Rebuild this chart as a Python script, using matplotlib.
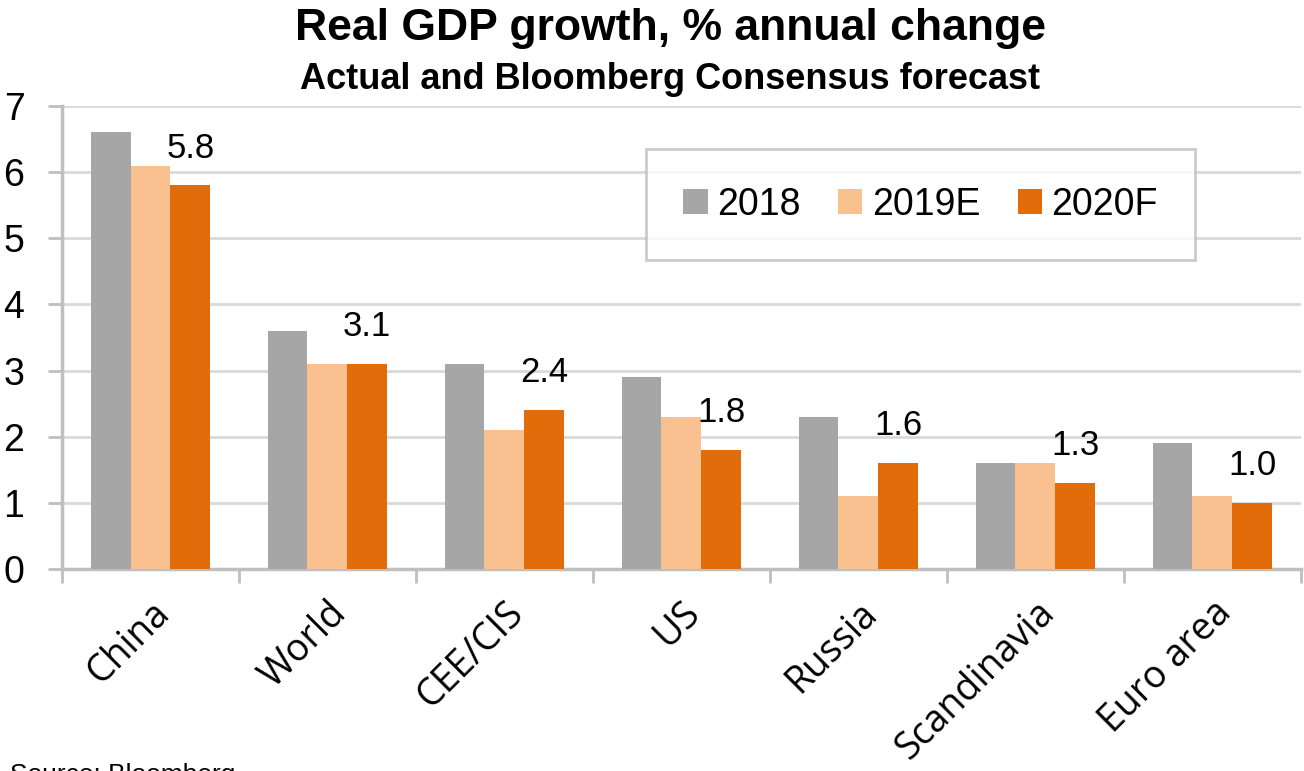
import matplotlib
matplotlib.use('Agg')
import matplotlib.pyplot as plt
import numpy as np

categories = ['China', 'World', 'CEE/CIS', 'US', 'Russia', 'Scandinavia', 'Euro area']
series_names = ['2018', '2019E', '2020F']
gdp_2018 = [6.6, 3.6, 3.1, 2.9, 2.3, 1.6, 1.9]
gdp_2019 = [6.1, 3.1, 2.1, 2.3, 1.1, 1.6, 1.1]
gdp_2020 = [5.8, 3.1, 2.4, 1.8, 1.6, 1.3, 1.0]
colors = ['#a6a6a6', '#f9c190', '#e36c0a']

plt.rcParams['font.family'] = ['Liberation Sans', 'DejaVu Sans']

fig = plt.figure(figsize=(13.04, 7.71), dpi=100)
ax = fig.add_axes([0.0475, 0.262, 0.95, 0.6005])

x = np.arange(len(categories))
w = 0.225
for i, (vals, name) in enumerate(zip([gdp_2018, gdp_2019, gdp_2020], series_names)):
    ax.bar(x + (i - 1) * w, vals, w, color=colors[i], label=name, zorder=3)

# value labels for the 2020 forecast
for xi, v in zip(x, gdp_2020):
    ax.text(xi + w, v + 0.42, f'{v:.1f}', ha='center', va='baseline', fontsize=25)

ax.set_xlim(-0.5, len(categories) - 0.5)
ax.set_ylim(0, 7)
ax.set_yticks(range(0, 8))
ax.yaxis.grid(True, color='#d9d9d9', linewidth=2, zorder=0)
ax.tick_params(axis='y', labelsize=27, length=10, width=2, color='#bfbfbf', pad=17)

ax.set_xticks(x)
ax.set_xticklabels(categories, rotation=45, ha='right', rotation_mode='anchor',
                   fontsize=27, family='Open Sans')
ax.set_xticks(np.arange(-0.5, len(categories)), minor=True)
ax.tick_params(axis='x', which='major', length=0, pad=18)
ax.tick_params(axis='x', which='minor', length=10, width=2, color='#bfbfbf')

for s in ['top', 'right']:
    ax.spines[s].set_visible(False)
for s in ['left', 'bottom']:
    ax.spines[s].set_color('#bfbfbf')
    ax.spines[s].set_linewidth(2.5)

leg = ax.legend(loc='upper right', bbox_to_anchor=(0.915, 0.907), ncol=3, fontsize=27,
                frameon=True, fancybox=False, handlelength=0.65, handleheight=0.65,
                handletextpad=0.25, columnspacing=1.0, borderpad=1.0, borderaxespad=0)
leg.get_frame().set_edgecolor('#bfbfbf')
leg.get_frame().set_linewidth(2)

fig.text(0.514, 0.963, 'Real GDP growth, % annual change', ha='center', va='center',
         fontsize=32, fontweight='bold')
fig.text(0.514, 0.897, 'Actual and Bloomberg Consensus forecast', ha='center', va='center',
         fontsize=26, fontweight='bold')
fig.text(0.008, 0.011, 'Source: Bloomberg', ha='left', va='top', fontsize=19)

fig.savefig('out.png', dpi=100)
